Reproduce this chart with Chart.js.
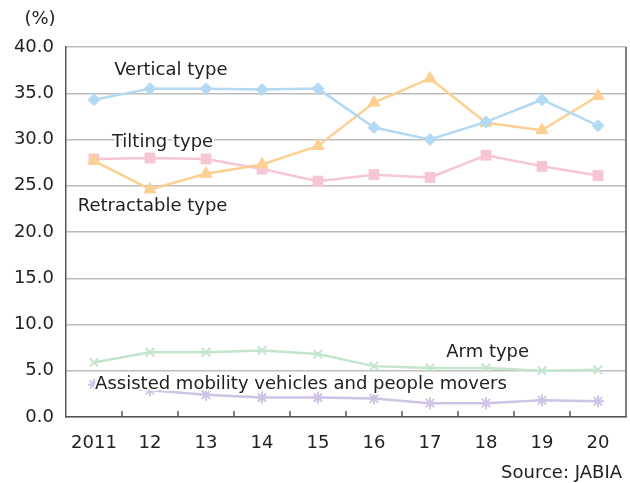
<!DOCTYPE html>
<html>
<head>
<meta charset="utf-8">
<script src="https://cdn.jsdelivr.net/npm/chart.js@4.4.1/dist/chart.umd.min.js"></script>
<style>
html,body{margin:0;padding:0;background:#fff;}
#wrap{width:630px;height:483px;position:relative;}
</style>
</head>
<body>
<div id="wrap"><canvas id="chart"></canvas></div>
<script>
var years = ['2011','12','13','14','15','16','17','18','19','20'];
var verticalType    = [34.3,35.5,35.5,35.4,35.5,31.3,30.0,31.9,34.3,31.5];
var tiltingType     = [27.7,24.6,26.3,27.3,29.3,34.0,36.6,31.8,31.0,34.7];
var retractableType = [27.9,28.0,27.9,26.8,25.5,26.2,25.9,28.3,27.1,26.1];
var armType         = [5.9,7.0,7.0,7.2,6.8,5.5,5.3,5.3,5.0,5.1];
var assistedType    = [3.5,2.9,2.4,2.1,2.1,2.0,1.5,1.5,1.8,1.7];
var yMin = 0, yMax = 40, yStep = 5;

// series labels placed in data space (x = category index, y = value)
var seriesLabels = [
  {text:'Vertical type', x:0.36, y:37.5},
  {text:'Tilting type', x:0.32, y:29.7},
  {text:'Retractable type', x:-0.29, y:22.8},
  {text:'Arm type', x:6.29, y:7.0},
  {text:'Assisted mobility vehicles and people movers', x:0.02, y:3.5}
];

var FONT = '18px "DejaVu Sans", Verdana, sans-serif';
var TEXT = '#222';

var extras = {
  id: 'extras',
  beforeDatasetsDraw: function(chart) {
    var ctx = chart.ctx, a = chart.chartArea, xs = chart.scales.x;
    ctx.save();
    ctx.strokeStyle = '#555';
    ctx.lineWidth = 1.5;
    ctx.beginPath();
    ctx.moveTo(a.right, a.top);
    ctx.lineTo(a.right, a.bottom);
    // inward ticks between categories
    for (var i = 1; i < years.length; i++) {
      var x = (xs.getPixelForValue(i - 1) + xs.getPixelForValue(i)) / 2;
      ctx.moveTo(x, a.bottom);
      ctx.lineTo(x, a.bottom - 6);
    }
    ctx.stroke();
    ctx.restore();
  },
  afterDatasetsDraw: function(chart) {
    var ctx = chart.ctx, xs = chart.scales.x, ys = chart.scales.y;
    ctx.save();
    ctx.font = FONT;
    ctx.textBaseline = 'middle';
    ctx.textAlign = 'left';
    ctx.lineJoin = 'round';
    seriesLabels.forEach(function(l) {
      var px = xs.getPixelForValue(0) + l.x * (xs.getPixelForValue(1) - xs.getPixelForValue(0));
      var py = ys.getPixelForValue(l.y);
      ctx.strokeStyle = '#fff';
      ctx.lineWidth = 4;
      ctx.strokeText(l.text, px, py);
      ctx.fillStyle = TEXT;
      ctx.fillText(l.text, px, py);
    });
    ctx.restore();
  },
  afterDraw: function(chart) {
    var ctx = chart.ctx;
    ctx.save();
    ctx.font = FONT;
    ctx.fillStyle = TEXT;
    ctx.textBaseline = 'middle';
    ctx.textAlign = 'center';
    ctx.fillText('(%)', 40, 19);
    ctx.textAlign = 'right';
    ctx.fillText('Source: JABIA', 622, 473);
    ctx.restore();
  }
};

function series(label, data, color, style, r) {
  return {
    label: label,
    data: data,
    borderColor: color,
    backgroundColor: color,
    pointBackgroundColor: color,
    pointBorderColor: color,
    pointStyle: style,
    pointRadius: r,
    pointBorderWidth: style === 'crossRot' || style === 'star' ? 2 : 1,
    borderWidth: 2.5,
    tension: 0
  };
}

new Chart(document.getElementById('chart'), {
  type: 'line',
  data: {
    labels: years,
    datasets: [
      series('Vertical type', verticalType, '#b3daf4', 'rectRot', 6),
      series('Tilting type', tiltingType, '#fcd093', 'triangle', 7),
      series('Retractable type', retractableType, '#f7c6d3', 'rect', 7),
      series('Arm type', armType, '#c3e5cd', 'crossRot', 6),
      series('Assisted mobility vehicles and people movers', assistedType, '#d0c4e6', 'star', 6)
    ]
  },
  options: {
    responsive: true,
    maintainAspectRatio: false,
    animation: false,
    layout: { autoPadding: false, padding: { left: 0, right: 4, top: 47, bottom: 0 } },
    plugins: { legend: { display: false }, tooltip: { enabled: false } },
    scales: {
      x: {
        offset: true,
        grid: { display: false },
        border: { display: true, color: '#555', width: 1.5 },
        ticks: { color: TEXT, font: { family: '"DejaVu Sans"', size: 18 }, padding: 8, maxRotation: 0, autoSkip: false },
        afterFit: function(s) { s.height = 66; }
      },
      y: {
        min: yMin,
        max: yMax,
        grid: { color: '#bdbdbd', lineWidth: 1.5, drawTicks: false },
        border: { display: true, color: '#555', width: 1.5 },
        ticks: {
          stepSize: yStep,
          color: TEXT,
          font: { family: '"DejaVu Sans"', size: 18 },
          padding: 12,
          callback: function(v) { return v.toFixed(1); }
        },
        afterFit: function(s) { s.width = 66; }
      }
    }
  },
  plugins: [extras]
});
</script>
</body>
</html>
